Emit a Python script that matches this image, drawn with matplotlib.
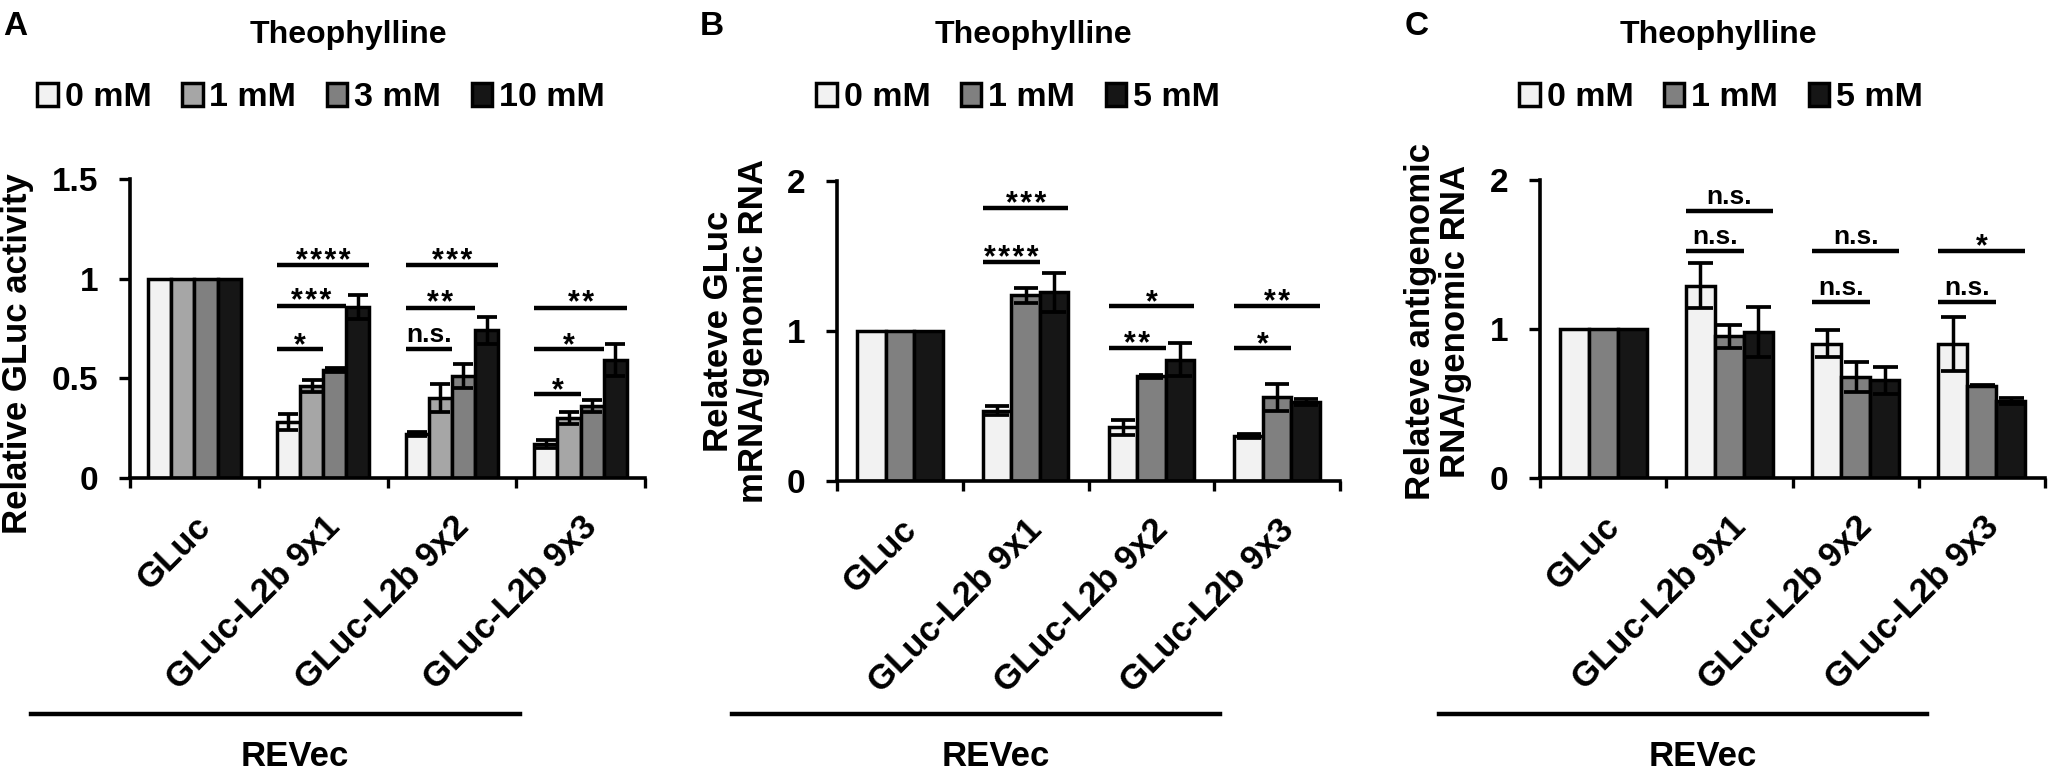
import matplotlib
matplotlib.use('Agg')
import matplotlib.pyplot as plt
import numpy as np
from matplotlib.lines import Line2D

plt.rcParams['font.family'] = ['Liberation Sans', 'DejaVu Sans']
plt.rcParams['font.weight'] = 'bold'

W, H = 2054, 769

categories = ['GLuc', 'GLuc-L2b 9x1', 'GLuc-L2b 9x2', 'GLuc-L2b 9x3']

# ---- Panel A : Relative GLuc activity ----
a_series = ['0 mM', '1 mM', '3 mM', '10 mM']
a_colors = ['#f2f2f2', '#a6a6a6', '#808080', '#161616']
a_values = [[1.00, 0.28, 0.22, 0.17],
            [1.00, 0.46, 0.40, 0.30],
            [1.00, 0.54, 0.51, 0.36],
            [1.00, 0.86, 0.74, 0.59]]
a_errors = [[0.0, 0.04, 0.01, 0.02],
            [0.0, 0.03, 0.07, 0.03],
            [0.0, 0.01, 0.06, 0.03],
            [0.0, 0.06, 0.07, 0.08]]
# (category, first bar, last bar, height, label)
a_sig = [(1, 0, 3, 1.07, '****'), (1, 0, 2, 0.865, '***'), (1, 0, 1, 0.645, '*'),
         (2, 0, 3, 1.07, '***'), (2, 0, 2, 0.855, '**'), (2, 0, 1, 0.645, 'n.s.'),
         (3, 0, 3, 0.855, '**'), (3, 0, 2, 0.645, '*'), (3, 0, 1, 0.42, '*')]

# ---- Panel B : GLuc mRNA / genomic RNA ----
b_series = ['0 mM', '1 mM', '5 mM']
b_colors = ['#f2f2f2', '#808080', '#161616']
b_values = [[1.00, 0.47, 0.36, 0.30],
            [1.00, 1.24, 0.70, 0.56],
            [1.00, 1.26, 0.81, 0.53]]
b_errors = [[0.0, 0.03, 0.05, 0.015],
            [0.0, 0.05, 0.01, 0.09],
            [0.0, 0.13, 0.11, 0.02]]
b_sig = [(1, 0, 2, 1.82, '***'), (1, 0, 1, 1.46, '****'),
         (2, 0, 2, 1.165, '*'), (2, 0, 1, 0.885, '**'),
         (3, 0, 2, 1.165, '**'), (3, 0, 1, 0.885, '*')]

# ---- Panel C : antigenomic RNA / genomic RNA ----
c_series = ['0 mM', '1 mM', '5 mM']
c_colors = ['#f2f2f2', '#808080', '#161616']
c_values = [[1.00, 1.29, 0.90, 0.90],
            [1.00, 0.95, 0.68, 0.62],
            [1.00, 0.98, 0.655, 0.52]]
c_errors = [[0.0, 0.15, 0.09, 0.18],
            [0.0, 0.08, 0.10, 0.005],
            [0.0, 0.17, 0.09, 0.02]]
c_sig = [(1, 0, 2, 1.79, 'n.s.'), (1, 0, 1, 1.525, 'n.s.'),
         (2, 0, 2, 1.525, 'n.s.'), (2, 0, 1, 1.18, 'n.s.'),
         (3, 0, 2, 1.525, '*'), (3, 0, 1, 1.18, 'n.s.')]

fig = plt.figure(figsize=(W / 100, H / 100), dpi=100)


def fx(px):
    return px / W


def fy(py):
    return 1 - py / H


def panel(rect, series, colors, values, errors, sig, ymax, yticks, group_w, capsize):
    left, right, top, bottom = rect
    ax = fig.add_axes([fx(left), fy(bottom), fx(right - left), (bottom - top) / H])
    n = len(series)
    w = group_w / n
    x = np.arange(len(categories))
    for i in range(n):
        pos = x - group_w / 2 + w * (i + 0.5)
        ax.bar(pos, values[i], w, color=colors[i], edgecolor='black',
               linewidth=2.5, label=series[i], zorder=2)
        err = np.array(errors[i])
        m = err > 0
        ax.errorbar(pos[m], np.array(values[i])[m], yerr=err[m], fmt='none',
                    ecolor='black', elinewidth=2.5, capsize=capsize,
                    capthick=2.7, zorder=3)
    for (c, s, e, y, lab) in sig:
        x0 = c - group_w / 2 + w * s
        x1 = c - group_w / 2 + w * (e + 1)
        ax.plot([x0, x1], [y, y], color='black', lw=3.2,
                solid_capstyle='butt', clip_on=False, zorder=4)
        if lab == 'n.s.':
            ax.annotate(lab, ((x0 + x1) / 2, y), xytext=(0, 5),
                        textcoords='offset points', ha='center', va='baseline',
                        fontsize=19, fontweight='bold', annotation_clip=False)
        else:
            ax.annotate('\u200a'.join(lab), ((x0 + x1) / 2, y), xytext=(0, -3.5),
                        textcoords='offset points', ha='center', va='baseline',
                        fontsize=22, fontweight='bold', annotation_clip=False)
    ax.set_xlim(-0.5, len(categories) - 0.5)
    ax.set_ylim(0, ymax)
    ax.set_yticks(yticks)
    ax.set_yticklabels(['%g' % t for t in yticks], fontsize=24, fontweight='bold')
    ax.set_xticks(x)
    ax.set_xticklabels(categories, rotation=45, ha='right',
                       rotation_mode='anchor', fontsize=25, fontweight='bold')
    ax.set_xticks(np.arange(len(categories) + 1) - 0.5, minor=True)
    ax.tick_params(axis='x', which='major', length=0, pad=23)
    ax.tick_params(axis='x', which='minor', length=7, width=2.4, direction='out')
    ax.tick_params(axis='y', length=8, width=2.4, pad=15, direction='out')
    for sp in ['top', 'right']:
        ax.spines[sp].set_visible(False)
    for sp in ['left', 'bottom']:
        ax.spines[sp].set_linewidth(2.6)
    return ax


axA = panel((130, 645, 179, 478), a_series, a_colors, a_values, a_errors, a_sig,
            1.5, [0, 0.5, 1, 1.5], 0.72, 7)
axB = panel((837, 1340, 181, 481), b_series, b_colors, b_values, b_errors, b_sig,
            2, [0, 1, 2], 0.68, 8.5)
axC = panel((1540, 2045, 180, 478), c_series, c_colors, c_values, c_errors, c_sig,
            2, [0, 1, 2], 0.69, 9)

# legends
for ax, cx, n in [(axA, 321, 4), (axB, 1018, 3), (axC, 1721, 3)]:
    ax.legend(loc='center', bbox_to_anchor=(fx(cx), fy(98)),
              bbox_transform=fig.transFigure, ncol=n, frameon=False,
              prop={'size': 24.5, 'weight': 'bold'}, handlelength=0.6,
              handleheight=0.65, handletextpad=0.2, columnspacing=0.9,
              borderaxespad=0, borderpad=0)

# titles
for cx in [348, 1033, 1718]:
    fig.text(fx(cx), fy(43), 'Theophylline', ha='center', va='baseline',
             fontsize=23, fontweight='bold')

# panel letters
for lx, lab in [(15, 'A'), (712, 'B'), (1417, 'C')]:
    fig.text(fx(lx), fy(35), lab, ha='center', va='baseline', fontsize=24,
             fontweight='bold')

# y labels
fig.text(fx(18), fy(354), 'Relative GLuc activity', rotation=90, ha='center',
         va='center', fontsize=25, fontweight='bold')
fig.text(fx(736), fy(331), 'Relateve GLuc\nmRNA/genomic RNA', rotation=90,
         ha='center', va='center', fontsize=25, fontweight='bold',
         multialignment='center', linespacing=1.1)
fig.text(fx(1438), fy(321), 'Relateve antigenomic\nRNA/genomic RNA', rotation=90,
         ha='center', va='center', fontsize=25, fontweight='bold',
         multialignment='center', linespacing=1.1)

# REVec bars
for x0, x1, tx in [(31, 520, 295), (732, 1220, 996), (1439, 1927, 1703)]:
    fig.add_artist(Line2D([fx(x0), fx(x1)], [fy(714), fy(714)],
                          transform=fig.transFigure, color='black', lw=3.2))
    fig.text(fx(tx), fy(766), 'REVec', ha='center', va='baseline',
             fontsize=25, fontweight='bold')

fig.savefig('out.png', dpi=100)
